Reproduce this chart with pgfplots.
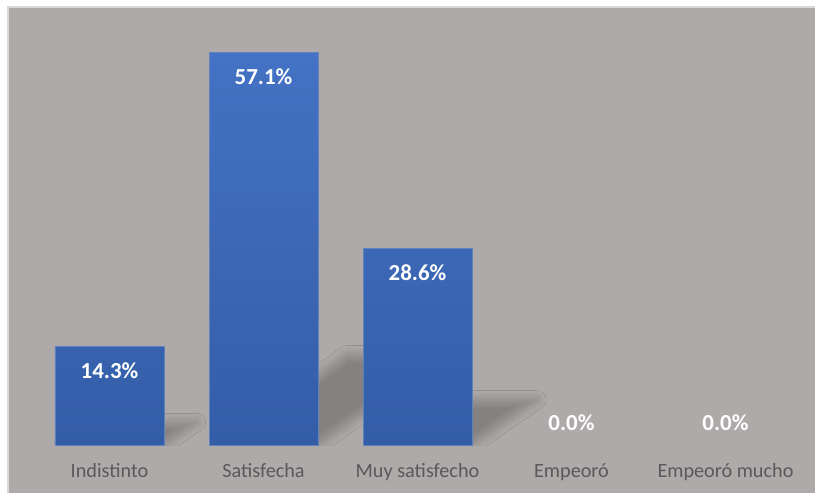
\documentclass[border=0pt]{standalone}
\usepackage{pgfplots}
\pgfplotsset{compat=1.18}
\usetikzlibrary{shadows.blur}
\usepackage{fontspec}
\setmainfont{Carlito}
\definecolor{bg}{RGB}{174,170,169}
\definecolor{frame}{RGB}{217,217,217}
\definecolor{bartop}{RGB}{68,114,196}
\definecolor{barbot}{RGB}{51,93,167}
\definecolor{baredge}{RGB}{96,128,190}
\definecolor{lab}{RGB}{89,89,89}
\begin{document}
\begin{tikzpicture}
% page and chart area
\useasboundingbox (-32.5bp,-48bp) rectangle (782.5bp,445bp);
\fill[white] (-32.5bp,-48bp) rectangle (782.5bp,445bp);
\fill[bg] (-24.5bp,-70bp) rectangle (800bp,438bp);
\draw[frame, line width=1.5bp] (-24.5bp,-70bp) -- (-24.5bp,438bp) -- (800bp,438bp);
\begin{axis}[
  at={(0,0)}, anchor=south west,
  scale only axis, width=770bp, height=412.8bp,
  xmin=-0.5, xmax=4.5, ymin=0, ymax=60,
  axis line style={draw=none},
  ytick=\empty,
  xtick={0,1,2,3,4},
  xticklabels={Indistinto,Satisfecha,Muy satisfecho,Empeoró,Empeoró mucho},
  major tick length=0pt,
  xticklabel style={font=\fontsize{20.3}{24}\selectfont, text=lab, anchor=north, yshift=-15bp},
  /pgf/number format/assume math mode=true,
  clip=true,
  shadowstyle/.style={draw=none, fill=none,
    blur shadow={shadow xshift=0bp, shadow yshift=0bp, shadow blur radius=9bp,
      shadow blur steps=12, shadow opacity=24}},
]
% perspective shadows (bar outlines projected onto the floor)
\addplot[shadowstyle] coordinates {(-0.28,0) (0.354,0) (0.565,3.29) (-0.07,3.29)} -- cycle;
\addplot[shadowstyle] coordinates {(0.72,0) (1.354,0) (2.196,13.13) (1.54,13.13)} -- cycle;
\addplot[shadowstyle] coordinates {(1.72,0) (2.354,0) (2.776,6.58) (2.13,6.58)} -- cycle;
% bars
\addplot[ybar, bar width=109bp, bar shift=0pt, draw=baredge, line width=0.8bp,
  top color=bartop, bottom color=barbot,
  nodes near coords={\pgfmathprintnumber[fixed,fixed zerofill,precision=1]{\pgfplotspointmeta}\%},
  every node near coord/.append style={anchor=center, yshift=-24.5bp, text=white,
    font=\fontsize{23}{27}\selectfont\bfseries}]
  coordinates {(0,14.3) (1,57.1) (2,28.6)};
\addplot[ybar, bar width=109bp, bar shift=0pt, draw=none, fill=none,
  nodes near coords={\pgfmathprintnumber[fixed,fixed zerofill,precision=1]{\pgfplotspointmeta}\%},
  every node near coord/.append style={anchor=center, yshift=22.5bp, text=white,
    font=\fontsize{23}{27}\selectfont\bfseries}]
  coordinates {(3,0) (4,0)};
\end{axis}
\end{tikzpicture}
\end{document}
